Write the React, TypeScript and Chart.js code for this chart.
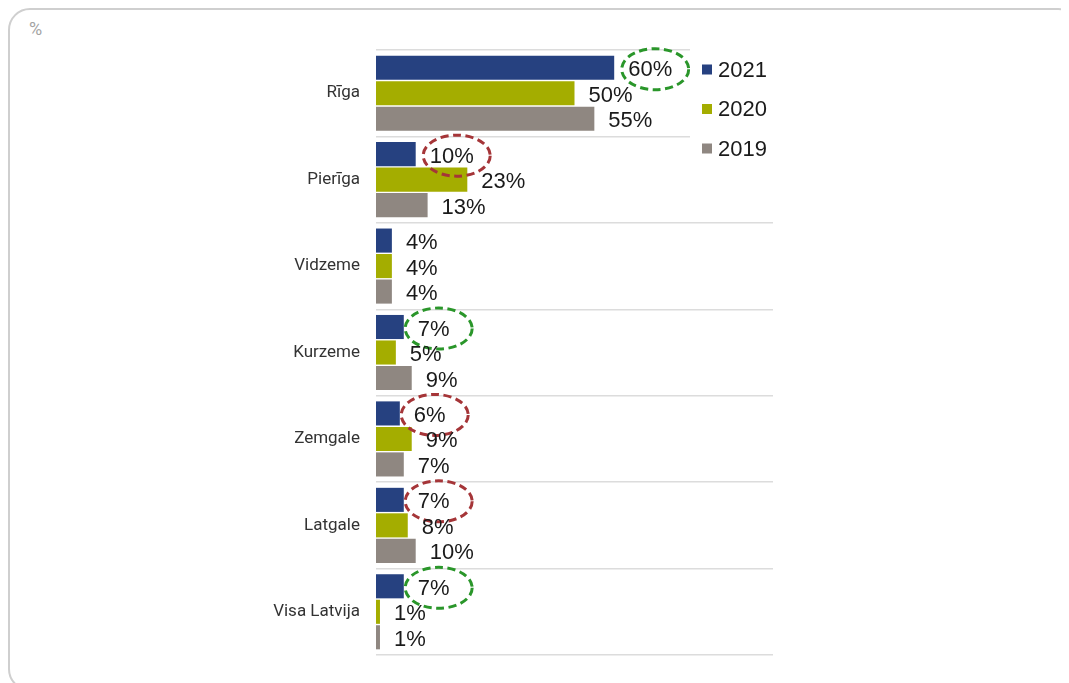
import React, { useEffect, useRef } from "react";
import { Chart, registerables } from "chart.js";

Chart.register(...registerables);

const categories = ["Rīga", "Pierīga", "Vidzeme", "Kurzeme", "Zemgale", "Latgale", "Visa Latvija"];
const seriesNames = ["2021", "2020", "2019"];
const values2021 = [60, 10, 4, 7, 6, 7, 7];
const values2020 = [50, 23, 4, 5, 9, 8, 1];
const values2019 = [55, 13, 4, 9, 7, 10, 1];
const highlight2021 = ["green", "red", null, "green", "red", "red", "green"];
const seriesColors = ["#264180", "#a4ad00", "#8f8781"];
const highlightColors: Record<string, string> = { green: "#2a962a", red: "#a53538" };
const unitLabel = "%";

const W = 1061;
const H = 675;

export default function App() {
  const ref = useRef<HTMLCanvasElement | null>(null);

  useEffect(() => {
    const canvas = ref.current;
    if (!canvas) return;
    const labelFont = '22px "Liberation Sans", Arial, sans-serif';

    const labelsPlugin = {
      id: "valueLabels",
      afterDatasetsDraw(chart: any) {
        const ctx = chart.ctx;
        ctx.save();
        ctx.font = labelFont;
        ctx.fillStyle = "#1a1a1a";
        ctx.textAlign = "left";
        ctx.textBaseline = "middle";
        chart.data.datasets.forEach((ds: any, di: number) => {
          const meta = chart.getDatasetMeta(di);
          meta.data.forEach((el: any, i: number) => {
            const txt = Math.round(ds.data[i]) + "%";
            const x = el.x + 14;
            const y = el.y + 2.5;
            ctx.fillText(txt, x, y);
            if (di === 0 && highlight2021[i]) {
              const w = ctx.measureText(txt).width;
              ctx.save();
              ctx.strokeStyle = highlightColors[highlight2021[i] as string];
              ctx.lineWidth = 3;
              ctx.setLineDash([8, 4.5]);
              ctx.beginPath();
              ctx.ellipse(x + w / 2 + 5, el.y + 1.5, 33.5, 20.5, 0, 0, Math.PI * 2);
              ctx.stroke();
              ctx.restore();
            }
          });
        });
        ctx.restore();
      },
      afterDraw(chart: any) {
        const ctx = chart.ctx;
        ctx.save();
        ctx.fillStyle = "#ffffff";
        ctx.fillRect(682, 36, 110, 130);
        ctx.font = labelFont;
        ctx.textAlign = "left";
        ctx.textBaseline = "middle";
        seriesNames.forEach((name, i) => {
          const cy = 61.5 + i * 39.5;
          ctx.fillStyle = seriesColors[i];
          ctx.fillRect(694, cy - 5, 10, 10);
          ctx.fillStyle = "#1a1a1a";
          ctx.fillText(name, 710, cy + 1);
        });
        ctx.restore();
      },
    };

    const seriesValues = [values2021, values2020, values2019];
    const chart = new Chart(canvas, {
      type: "bar",
      data: {
        labels: categories,
        datasets: seriesNames.map((name, i) => ({
          label: name,
          data: seriesValues[i],
          backgroundColor: seriesColors[i],
          borderWidth: 0,
          categoryPercentage: 0.885,
          barPercentage: 0.945,
        })),
      },
      options: {
        indexAxis: "y",
        animation: false,
        responsive: false,
        maintainAspectRatio: false,
        layout: { padding: { top: 42, bottom: 28, left: 0, right: 296 } },
        plugins: {
          legend: { display: false },
          tooltip: { enabled: false },
          title: { display: false },
        },
        scales: {
          x: {
            display: false,
            min: 0,
            max: 100,
          },
          y: {
            afterFit(scale: any) {
              scale.width = 368;
            },
            border: { display: false },
            grid: {
              offset: true,
              drawTicks: false,
              color: "#dcdcdc",
              lineWidth: 1.5,
            },
            ticks: {
              padding: 16,
              color: "#333333",
              font: { family: "Roboto, Arial, sans-serif", size: 17 },
            },
          },
        },
      },
      plugins: [labelsPlugin],
    } as any);

    return () => chart.destroy();
  }, []);

  return (
    <div style={{ position: "relative", width: W, height: H, overflow: "hidden", background: "#fff" }}>
      <div
        style={{
          position: "absolute",
          left: 0,
          top: 0,
          width: 1072,
          height: 683,
          boxSizing: "border-box",
          border: "2px solid #cfcfcf",
          borderRadius: 22,
        }}
      />
      <div
        style={{
          position: "absolute",
          left: 21,
          top: 11,
          fontFamily: "Roboto, Arial, sans-serif",
          fontSize: 18,
          lineHeight: "20px",
          color: "#a3a3a3",
        }}
      >
        {unitLabel}
      </div>
      <canvas ref={ref} width={W} height={H} style={{ position: "absolute", left: 0, top: 0 }} />
    </div>
  );
}
